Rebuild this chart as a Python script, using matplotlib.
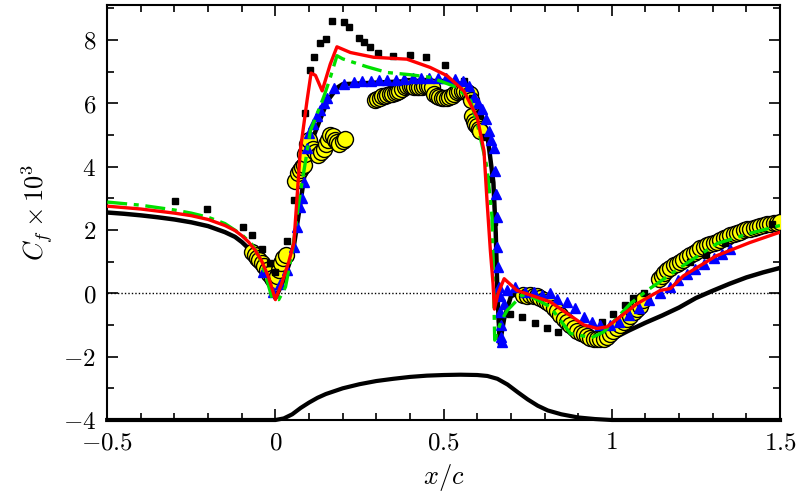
import matplotlib
matplotlib.use("Agg")
import matplotlib.pyplot as plt
from matplotlib.ticker import MultipleLocator

plt.rcParams['mathtext.fontset'] = 'cm'
plt.rcParams['font.family'] = ['DejaVu Serif']

# ---- data ----
black_x = [-0.5,-0.45,-0.4,-0.35,-0.3,-0.25,-0.2,-0.15,-0.12,-0.1,-0.08,-0.06,-0.04,-0.02,0,0.02,0.04,0.055,0.075,0.09,0.115,0.155,0.185,0.2,0.3,0.4,0.5,0.56,0.6,0.63,0.648,0.655,0.66,0.667,0.68,0.7,0.73,0.76,0.8,0.85,0.9,0.95,0.98,1.0,1.05,1.1,1.15,1.2,1.25,1.3,1.35,1.4,1.45,1.5]
black_y = [2.55,2.51,2.46,2.4,2.33,2.24,2.12,1.93,1.78,1.62,1.42,1.15,0.8,0.35,-0.15,0.3,0.9,1.5,2.9,4.0,5.0,6.08,6.5,6.6,6.65,6.7,6.7,6.6,6.1,5.0,3.5,1.9,0.0,-1.6,-0.8,-0.1,0.05,-0.05,-0.35,-0.85,-1.35,-1.58,-1.55,-1.45,-1.18,-0.93,-0.7,-0.45,-0.15,0.08,0.3,0.5,0.66,0.8]

red_x = [-0.5,-0.4,-0.3,-0.25,-0.2,-0.15,-0.12,-0.1,-0.08,-0.06,-0.04,-0.02,0,0.02,0.04,0.055,0.074,0.094,0.106,0.119,0.139,0.163,0.183,0.223,0.292,0.391,0.46,0.51,0.56,0.6,0.62,0.629,0.639,0.647,0.651,0.662,0.68,0.718,0.817,0.917,0.956,0.986,1.075,1.144,1.174,1.213,1.31,1.41,1.5]
red_y = [2.75,2.66,2.53,2.45,2.33,2.14,1.98,1.82,1.62,1.36,1.0,0.5,-0.2,0.35,1.0,1.6,4.5,6.08,6.95,6.88,6.39,7.23,7.78,7.6,7.45,7.39,7.13,6.87,6.39,5.55,4.5,2.93,1.35,0.3,-0.5,0.0,0.46,0.09,-0.27,-1.0,-1.11,-1.06,-0.33,0.09,0.15,0.55,1.18,1.6,1.93]

green_x = [-0.5,-0.4,-0.3,-0.25,-0.2,-0.15,-0.1,-0.07,-0.05,-0.03,-0.01,0.01,0.03,0.05,0.07,0.09,0.104,0.143,0.16,0.183,0.2,0.272,0.332,0.4,0.46,0.54,0.58,0.6,0.629,0.644,0.648,0.652,0.67,0.689,0.733,0.76,0.817,0.877,0.94,0.976,1.055,1.105,1.134,1.213,1.313,1.41,1.5]
green_y = [2.88,2.78,2.63,2.53,2.4,2.2,1.85,1.55,1.2,0.6,-0.15,-0.2,0.2,1.3,2.9,4.2,5.13,6.18,6.7,7.5,7.4,7.15,6.97,6.9,6.82,6.5,6.08,5.35,3.98,2.4,0.5,-1.48,-0.9,-0.54,-0.06,-0.1,-0.43,-1.27,-1.4,-1.22,-0.33,0.09,0.3,0.88,1.57,1.89,2.14]

blue_x = [-0.036,-0.006,0.015,0.035,0.054,0.064,0.072,0.078,0.084,0.094,0.1,0.112,0.124,0.134,0.144,0.154,0.173,0.203,0.233,0.258,0.283,0.308,0.333,0.358,0.383,0.408,0.433,0.458,0.483,0.508,0.533,0.558,0.575,0.589,0.602,0.614,0.625,0.634,0.642,0.649,0.653,0.656,0.658,0.659,0.662,0.665,0.667,0.669,0.67,0.672,0.674,0.679,0.689,0.713,0.743,0.768,0.792,0.817,0.837,0.867,0.892,0.917,0.941,0.966,0.996,1.02,1.05,1.08,1.11,1.144,1.174,1.198,1.223,1.248,1.273,1.303,1.327,1.352]
blue_y = [0.67,0.05,0.3,0.72,1.46,2.1,2.72,3.0,3.5,4.6,5.07,5.35,5.6,5.8,6.0,6.18,6.48,6.62,6.68,6.7,6.7,6.72,6.72,6.74,6.76,6.78,6.8,6.8,6.8,6.78,6.75,6.7,6.55,6.2,6.0,5.82,5.5,5.13,4.85,4.6,3.87,3.14,2.4,1.46,0.83,0.2,-0.1,-0.6,-1.0,-1.38,-1.55,-0.33,0.1,0.19,0.04,0.04,-0.06,0.0,-0.17,-0.27,-0.48,-0.75,-0.9,-1.0,-1.0,-0.9,-0.7,-0.45,-0.2,0.0,0.2,0.41,0.62,0.78,0.94,1.1,1.25,1.41]

yellow_x = [-0.069,-0.062,-0.055,-0.048,-0.04,-0.033,-0.025,-0.018,-0.01,-0.003,0.005,0.012,0.018,0.024,0.032,
            0.059,0.066,0.072,0.078,0.084,0.089,0.095,0.1,0.112,0.119,0.127,0.135,0.143,0.15,0.157,0.163,0.17,0.176,0.183,0.19,0.2,0.208,
            0.295,0.302,0.31,0.317,0.325,0.332,0.34,0.347,0.355,0.361,0.368,0.376,0.384,0.391,0.399,0.406,0.413,0.42,0.428,0.435,0.443,0.45,0.458,0.465,0.472,0.48,0.487,0.495,0.502,0.51,0.517,0.525,0.532,0.54,0.547,0.555,0.562,0.57,0.577,0.58,0.584,0.589,0.594,0.6,0.605,0.609,
            0.735,0.748,0.758,0.768,0.778,0.787,0.797,0.807,0.817,0.827,0.837,0.847,0.857,0.867,0.877,0.887,0.897,0.907,0.917,0.927,0.936,0.946,0.956,0.966,0.976,0.986,0.996,1.005,1.015,1.025,1.035,1.045,1.055,1.065,1.075,1.085,1.094,
            1.14,1.148,1.156,1.164,1.174,1.184,1.194,1.204,1.213,1.223,1.233,1.243,1.253,1.263,1.273,1.283,1.293,1.303,1.313,1.323,1.333,1.343,1.352,1.362,1.372,1.382,1.392,1.402,1.412,1.422,1.431,1.441,1.451,1.461,1.471,1.481,1.49,1.5]
yellow_y = [1.3,1.22,1.12,1.04,0.95,0.85,0.72,0.6,0.48,0.4,0.55,0.75,0.95,1.12,1.2,
            3.56,3.8,3.9,4.0,4.05,4.4,4.7,4.85,4.55,4.45,4.35,4.45,4.55,4.7,4.85,5.0,4.95,4.85,4.78,4.72,4.8,4.88,
            6.1,6.13,6.18,6.22,6.24,6.26,6.28,6.3,6.33,6.35,6.4,6.45,6.5,6.55,6.55,6.55,6.52,6.5,6.5,6.5,6.53,6.55,6.55,6.52,6.3,6.24,6.2,6.18,6.18,6.18,6.2,6.24,6.3,6.34,6.38,6.4,6.38,6.34,6.28,6.1,5.6,5.45,5.35,5.29,5.2,5.13,
            -0.05,-0.08,-0.05,-0.08,-0.1,-0.15,-0.22,-0.28,-0.35,-0.45,-0.55,-0.68,-0.8,-0.9,-1.0,-1.1,-1.18,-1.25,-1.3,-1.35,-1.4,-1.43,-1.45,-1.45,-1.43,-1.38,-1.3,-1.2,-1.1,-1.0,-0.92,-0.82,-0.72,-0.6,-0.5,-0.4,-0.22,
            0.46,0.55,0.65,0.72,0.8,0.88,0.94,1.0,1.06,1.13,1.2,1.28,1.35,1.42,1.47,1.52,1.57,1.6,1.63,1.68,1.73,1.78,1.83,1.87,1.9,1.95,1.99,2.02,2.04,2.07,2.09,2.12,2.15,2.18,2.2,2.22,2.23,2.25]

square_x = [-0.297,-0.203,-0.096,-0.069,-0.04,-0.017,0.0,0.035,0.054,0.089,0.102,0.116,0.134,0.151,0.168,0.203,0.22,0.248,0.262,0.28,0.304,0.349,0.401,0.449,0.505,0.56,0.584,0.6,0.619,0.634,0.649,0.669,0.698,0.733,0.773,0.807,0.839,0.971,1.005,1.04,1.063,1.095,1.233,1.28,1.337,1.476]
square_y = [2.91,2.65,2.09,1.83,1.41,0.97,0.67,1.65,2.93,5.69,7.04,7.46,7.89,8.02,8.58,8.57,8.42,8.07,7.92,7.76,7.58,7.5,7.53,7.46,7.21,6.71,6.18,5.66,4.92,3.61,2.25,-0.8,-0.64,-0.75,-0.93,-1.09,-1.22,-0.9,-0.64,-0.38,-0.15,0.01,0.99,1.22,1.6,2.2]

geom_x = [-0.5,0,0.025,0.05,0.075,0.1,0.125,0.15,0.2,0.25,0.3,0.35,0.4,0.45,0.5,0.55,0.6,0.63,0.66,0.69,0.72,0.75,0.78,0.81,0.85,0.9,0.95,1.0,1.5]
geom_y = [-4,-4,-3.95,-3.82,-3.62,-3.45,-3.3,-3.18,-3.0,-2.87,-2.77,-2.7,-2.64,-2.6,-2.58,-2.57,-2.58,-2.61,-2.7,-2.88,-3.12,-3.35,-3.55,-3.7,-3.82,-3.92,-3.97,-4.0,-4.0]

xticks = [-0.5, 0, 0.5, 1, 1.5]
xtick_labels = [r'$-0.5$', r'$0$', r'$0.5$', r'$1$', r'$1.5$']
yticks = [-4, -2, 0, 2, 4, 6, 8]
ytick_labels = [r'$-4$', r'$-2$', r'$0$', r'$2$', r'$4$', r'$6$', r'$8$']

# ---- plot ----
fig = plt.figure(figsize=(8, 5), dpi=100)
ax = fig.add_axes([0.134, 0.16, 0.841, 0.83])

ax.axhline(0, color='black', lw=1.0, ls=(0, (1, 1.5)), zorder=1)
ax.plot(geom_x, geom_y, color='black', lw=3, zorder=2, clip_on=False, solid_joinstyle='round')
ax.plot(black_x, black_y, color='black', lw=3.2, zorder=2, solid_joinstyle='round')
ax.plot(yellow_x, yellow_y, 'o', ms=11.5, mfc='#ffff00', mec='black', mew=1.0, ls='none', zorder=3)
ax.plot(square_x, square_y, 's', ms=5, color='black', ls='none', zorder=4)
ax.plot(blue_x, blue_y, '^', ms=7.5, color='#0000ff', mec='#0000ff', ls='none', zorder=5)
ax.plot(green_x, green_y, color='#00e000', lw=2.4, ls=(0, (6, 2, 1.5, 2)), zorder=6)
ax.plot(red_x, red_y, color='#ff0000', lw=2.4, zorder=7, solid_joinstyle='round')

ax.set_xlim(-0.5, 1.5)
ax.set_ylim(-4, 9.1)
ax.set_xticks(xticks)
ax.set_xticklabels(xtick_labels)
ax.set_yticks(yticks)
ax.set_yticklabels(ytick_labels)
ax.xaxis.set_minor_locator(MultipleLocator(0.1))
ax.yaxis.set_minor_locator(MultipleLocator(1))
ax.tick_params(which='both', direction='in', top=True, right=True, labelsize=18, width=1.2)
ax.tick_params(which='major', length=8, pad=8)
ax.tick_params(which='minor', length=5)
for s in ax.spines.values():
    s.set_linewidth(1.5)

ax.set_xlabel(r'$x/c$', fontsize=19, labelpad=6)
ax.set_ylabel(r'$C_f \times 10^3$', fontsize=19, labelpad=6)

fig.savefig('out.png', dpi=100)
